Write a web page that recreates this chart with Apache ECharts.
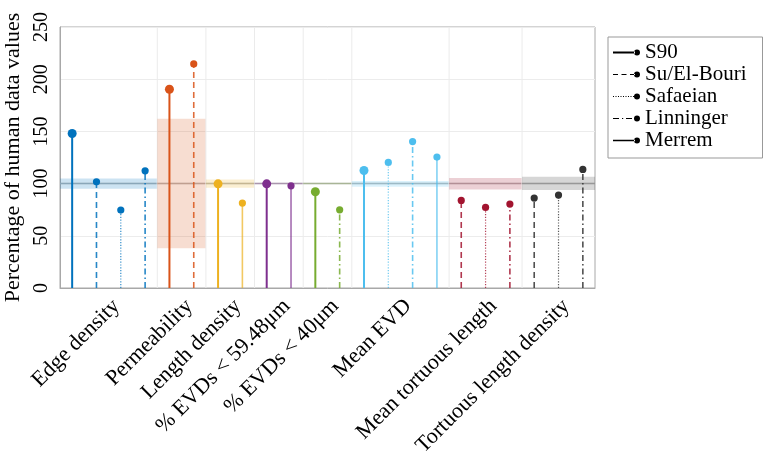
<!DOCTYPE html>
<html>
<head>
<meta charset="utf-8">
<script src="https://cdn.jsdelivr.net/npm/echarts@6/dist/echarts.min.js"></script>
<style>html,body{margin:0;padding:0;background:#fff;}#c{width:765px;height:466px;}</style>
</head>
<body>
<div id="c"></div>
<script>
const categories = ['Edge density','Permeability','Length density','% EVDs < 59.48μm','% EVDs < 40μm','Mean EVD','Mean tortuous length','Tortuous length density'];
const methods = ['S90','Su/El-Bouri','Safaeian','Linninger','Merrem'];
const s90       = [148.0, 190.4, 99.8, 99.8, 92.2, 112.6, null, null];
const suElBouri = [101.7, 214.6, null, null, null, null, 83.9, 86.1];
const safaeian  = [74.6, null, null, null, null, 120.3, 77.2, 89.0];
const linninger = [112.2, null, null, null, 74.9, 140.3, 80.4, 113.6];
const merrem    = [null, null, 81.3, 97.9, null, 125.4, null, null];
const bandLow   = [95, 38, 96, null, null, 97, 94.4, 93.8];
const bandHigh  = [105, 162, 104, null, null, 102.5, 105.3, 106.5];
const humanRef  = 100;
const yTicks    = [0, 50, 100, 150, 200, 250];

const methodValues = [s90, suElBouri, safaeian, linninger, merrem];
const groupColors = ['#0072BD','#D95319','#EDB120','#7E2F8E','#77AC30','#4DBEEE','#A2142F','#333333'];
const methodDash = ['solid', [6,4], [1.2,1.6], [6,3,1.5,3], 'solid'];
const methodWidth = [2, 1.6, 1.2, 1.6, 1.6];
const methodOpacity = [1, 0.85, 0.8, 0.85, 0.7];
const methodRadius = [4.5, 3.6, 3.6, 3.6, 3.6];
const FONT = 'Liberation Serif';

// assign slots: slot k occupies [k, k+1] on the x axis, stem at k+0.5
const stems = methods.map(() => []);
const groups = [];
let slot = 0;
categories.forEach((name, g) => {
  const start = slot;
  methodValues.forEach((arr, m) => {
    if (arr[g] != null) { stems[m].push([slot + 0.5, arr[g], g]); slot++; }
  });
  groups.push([start, slot, g]);
});
const nSlots = slot;
const centers = groups.map(gr => (gr[0] + gr[1]) / 2);

// legend icons
const dot = 'M21,3a3,3 0 1,0 6,0a3,3 0 1,0 -6,0z';
const icons = [
  'path://M0,2.1h22v1.8h-22z ' + dot,
  'path://M0,2.4h5v1.2h-5z M8.5,2.4h5v1.2h-5z M17,2.4h5v1.2h-5z ' + dot,
  'path://M0,2.5h1v1h-1z M2.5,2.5h1v1h-1z M5,2.5h1v1h-1z M7.5,2.5h1v1h-1z M10,2.5h1v1h-1z M12.5,2.5h1v1h-1z M15,2.5h1v1h-1z M17.5,2.5h1v1h-1z M20,2.5h1v1h-1z ' + dot,
  'path://M0,2.4h6v1.2h-6z M9,2.4h1.2v1.2h-1.2z M13,2.4h6v1.2h-6z ' + dot,
  'path://M0,2.3h22v1.4h-22z ' + dot
];

const series = [];
series.push({
  type: 'custom',
  name: 'bands',
  silent: true,
  z: 1,
  encode: { x: [0, 1], y: -1 },
  data: groups,
  renderItem: function (params, api) {
    const s = api.value(0), e = api.value(1), g = api.value(2);
    const ch = [];
    const c = groupColors[g];
    if (bandLow[g] != null) {
      const p1 = api.coord([s, bandHigh[g]]);
      const p2 = api.coord([e, bandLow[g]]);
      ch.push({ type: 'rect', shape: { x: p1[0], y: p1[1], width: p2[0] - p1[0], height: p2[1] - p1[1] },
        style: { fill: c, opacity: 0.2 } });
    }
    const a = api.coord([s, humanRef]), b = api.coord([e, humanRef]);
    ch.push({ type: 'line', shape: { x1: a[0], y1: a[1], x2: b[0], y2: b[1] }, style: { stroke: '#b8b8b8', lineWidth: 1.5 } });
    ch.push({ type: 'line', shape: { x1: a[0], y1: a[1], x2: b[0], y2: b[1] }, style: { stroke: c, lineWidth: 1.5, opacity: 0.25 } });
    if (g < categories.length - 1) {
      const t = api.coord([e, yTicks[yTicks.length - 1]]), u = api.coord([e, 0]);
      ch.push({ type: 'line', shape: { x1: t[0], y1: t[1], x2: u[0], y2: u[1] }, style: { stroke: '#ebebeb', lineWidth: 1 } });
    }
    return { type: 'group', children: ch };
  }
});

methods.forEach((name, m) => {
  series.push({
    type: 'custom',
    name: name,
    z: 3,
    encode: { x: 0, y: 1 },
    data: stems[m],
    renderItem: function (params, api) {
      const x = api.value(0), v = api.value(1), g = api.value(2);
      const a = api.coord([x, 0]), b = api.coord([x, v]);
      const c = groupColors[g];
      return { type: 'group', children: [
        { type: 'line', shape: { x1: a[0], y1: a[1], x2: b[0], y2: b[1] },
          style: { stroke: c, lineWidth: methodWidth[m], lineDash: methodDash[m], opacity: methodOpacity[m] } },
        { type: 'circle', shape: { cx: b[0], cy: b[1], r: methodRadius[m] }, style: { fill: c } }
      ] };
    }
  });
});

const chart = echarts.init(document.getElementById('c'), null, { renderer: 'canvas' });
chart.setOption({
  animation: false,
  backgroundColor: '#fff',
  grid: { left: 60, right: 170, top: 27, bottom: 178, show: true, borderColor: '#a8a8a8', borderWidth: 1,
          containLabel: false, outerBoundsMode: 'none' },
  legend: {
    orient: 'vertical', left: 608, top: 37,
    padding: [5, 16, 7, 5],
    borderColor: '#999', borderWidth: 1,
    itemWidth: 27, itemHeight: 6, itemGap: 1,
    data: methods.map((n, i) => ({ name: n, icon: icons[i] })),
    itemStyle: { color: '#000' },
    textStyle: { fontFamily: FONT, fontSize: 21, color: '#000', lineHeight: 20 }
  },
  xAxis: {
    type: 'value', min: 0, max: nSlots,
    axisLine: { onZero: false, lineStyle: { color: '#a8a8a8' } },
    axisTick: { show: false },
    splitLine: { show: false },
    axisLabel: {
      customValues: centers,
      rotate: 45, margin: 7, verticalAlign: 'top',
      fontFamily: FONT, fontSize: 22, color: '#000',
      formatter: function (v) {
        let best = 0;
        centers.forEach((c, i) => { if (Math.abs(c - v) < Math.abs(centers[best] - v)) best = i; });
        return categories[best];
      }
    }
  },
  yAxis: {
    type: 'value', min: yTicks[0], max: yTicks[yTicks.length - 1], interval: yTicks[1] - yTicks[0],
    name: 'Percentage of human data values', nameLocation: 'middle', nameGap: 32, nameRotate: 90,
    nameTextStyle: { fontFamily: FONT, fontSize: 22, color: '#000' },
    axisLine: { show: true, onZero: false, lineStyle: { color: '#a8a8a8' } },
    axisTick: { show: false },
    splitLine: { lineStyle: { color: '#ececec', width: 1 } },
    axisLabel: { rotate: 90, margin: 8, fontFamily: FONT, fontSize: 20, color: '#000' }
  },
  series: series
});
</script>
</body>
</html>
